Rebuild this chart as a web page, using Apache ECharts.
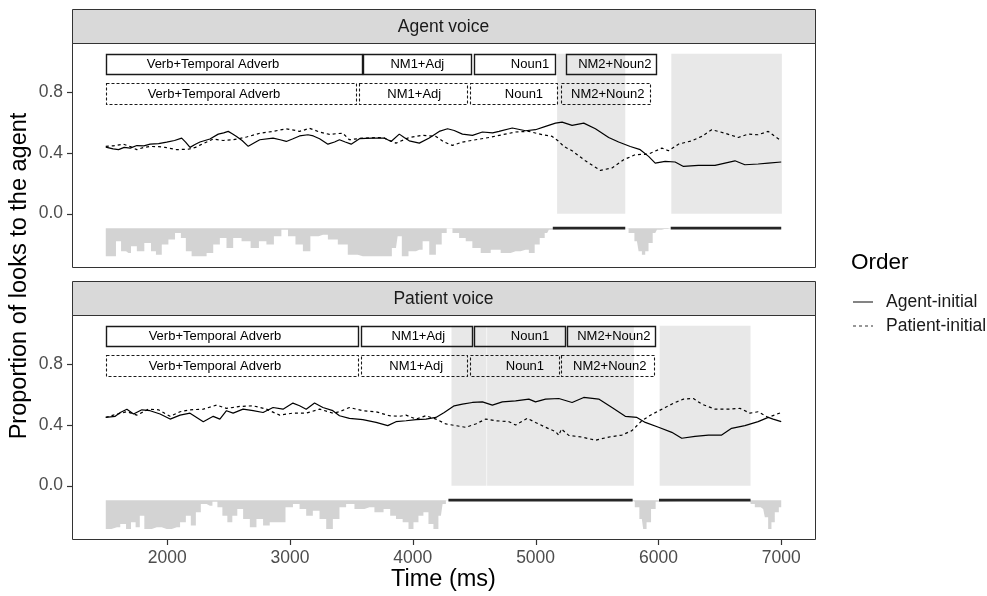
<!DOCTYPE html>
<html lang="en">
<head>
  <meta charset="UTF-8">
  <title>Proportion of looks to the agent</title>
  <style>
    html, body { margin: 0; padding: 0; background: #fff; }
    #chart { width: 987px; height: 596px; }
  </style>
</head>
<body>
  <div id="chart"></div>
  <script src="https://cdn.jsdelivr.net/npm/echarts/dist/echarts.min.js"></script>
  <script>
    // ---- data ----
    const panelTitles = ['Agent voice', 'Patient voice']
    const regionNames = ['Verb+Temporal Adverb', 'NM1+Adj', 'Noun1', 'NM2+Noun2']
    const xTicks = [2000, 3000, 4000, 5000, 6000, 7000]
    const yTicks = [0, 0.4, 0.8]

    // word regions: [start, end, label x]
    const agentVoiceSolidBoxes = [[1500, 3583, 2373], [3596, 4477, 4037], [4498, 5154, 4954], [5250, 5981, 5645]]
    const agentVoiceDashedBoxes = [[1500, 3537, 2381], [3563, 4441, 4012], [4469, 5181, 4905], [5203, 5927, 5587]]
    const patientVoiceSolidBoxes = [[1500, 3555, 2389], [3577, 4477, 4045], [4498, 5236, 4954], [5258, 5976, 5637]]
    const patientVoiceDashedBoxes = [[1500, 3550, 2389], [3577, 4441, 4028], [4463, 5187, 4913], [5206, 5962, 5604]]

    // significant windows (shaded)
    const agentVoiceShade = [[5175, 5730], [6105, 7005]]
    const patientVoiceShade = [[4315, 4600], [4605, 5800], [6010, 6750]]

    // significant clusters (black bar along the difference strip)
    const agentVoiceSig = [[5140, 5730], [6100, 7000]]
    const patientVoiceSig = [[4290, 5790], [6005, 6750]]

    // Agent voice: Agent-initial / Patient-initial
    const agentVoiceAI = [[1500,0.437],[1560,0.425],[1604,0.42],[1650,0.435],[1699,0.43],[1753,0.447],[1810,0.445],[1861,0.456],[1930,0.46],[1996,0.47],[2060,0.48],[2118,0.496],[2150,0.47],[2186,0.435],[2230,0.455],[2267,0.47],[2348,0.49],[2416,0.522],[2460,0.53],[2497,0.54],[2530,0.525],[2565,0.507],[2610,0.48],[2660,0.442],[2710,0.465],[2754,0.485],[2862,0.496],[2920,0.485],[2970,0.474],[3020,0.49],[3078,0.51],[3146,0.518],[3190,0.51],[3241,0.492],[3309,0.456],[3363,0.47],[3403,0.485],[3450,0.47],[3498,0.456],[3566,0.492],[3674,0.496],[3768,0.496],[3823,0.474],[3890,0.522],[3930,0.5],[3971,0.478],[4053,0.463],[4134,0.496],[4215,0.54],[4283,0.557],[4337,0.546],[4404,0.522],[4486,0.514],[4567,0.536],[4650,0.53],[4702,0.54],[4810,0.562],[4918,0.544],[4999,0.551],[5081,0.573],[5162,0.594],[5216,0.601],[5297,0.579],[5392,0.594],[5487,0.557],[5595,0.5],[5676,0.47],[5771,0.441],[5852,0.42],[5920,0.376],[5974,0.332],[6055,0.343],[6136,0.339],[6204,0.31],[6325,0.317],[6461,0.317],[6542,0.332],[6623,0.347],[6704,0.321],[6812,0.326],[6894,0.332],[7000,0.339]]
    const agentVoicePI = [[1500,0.441],[1560,0.445],[1645,0.456],[1700,0.44],[1753,0.42],[1810,0.435],[1861,0.441],[1930,0.44],[1983,0.435],[2078,0.42],[2172,0.423],[2230,0.435],[2267,0.45],[2375,0.49],[2456,0.48],[2538,0.485],[2646,0.503],[2754,0.528],[2862,0.54],[2970,0.557],[3020,0.55],[3078,0.54],[3159,0.56],[3241,0.536],[3322,0.52],[3380,0.525],[3430,0.528],[3484,0.485],[3593,0.496],[3755,0.5],[3863,0.463],[3971,0.5],[4080,0.514],[4188,0.507],[4256,0.47],[4323,0.448],[4404,0.47],[4512,0.485],[4621,0.5],[4729,0.518],[4837,0.536],[4945,0.54],[5054,0.518],[5135,0.507],[5189,0.474],[5230,0.441],[5297,0.413],[5405,0.347],[5527,0.284],[5622,0.3],[5717,0.354],[5811,0.387],[5920,0.391],[6028,0.43],[6082,0.413],[6163,0.456],[6271,0.478],[6353,0.507],[6434,0.551],[6542,0.528],[6650,0.5],[6731,0.522],[6812,0.518],[6894,0.54],[6948,0.507],[7000,0.478]]
    // lower edge of the grey difference strip
    const agentVoiceDiff = [[1500,-0.28],[1562,-0.28],[1604,-0.181],[1645,-0.247],[1685,-0.258],[1726,-0.214],[1780,-0.247],[1848,-0.192],[1888,-0.247],[1929,-0.269],[1983,-0.203],[2037,-0.17],[2091,-0.127],[2132,-0.159],[2172,-0.247],[2226,-0.28],[2294,-0.28],[2348,-0.258],[2402,-0.203],[2456,-0.159],[2510,-0.225],[2565,-0.159],[2646,-0.181],[2713,-0.225],[2781,-0.181],[2835,-0.203],[2903,-0.149],[2957,-0.105],[3011,-0.149],[3078,-0.203],[3132,-0.247],[3200,-0.149],[3268,-0.138],[3349,-0.17],[3430,-0.203],[3511,-0.269],[3593,-0.28],[3701,-0.28],[3796,-0.28],[3863,-0.225],[3890,-0.149],[3931,-0.28],[3999,-0.247],[4053,-0.236],[4107,-0.181],[4161,-0.269],[4215,-0.203],[4256,-0.127],[4296,-0.098],[4350,-0.127],[4404,-0.159],[4458,-0.181],[4512,-0.225],[4594,-0.258],[4675,-0.236],[4756,-0.258],[4837,-0.247],[4918,-0.236],[4972,-0.258],[5013,-0.203],[5054,-0.159],[5094,-0.127],[5121,-0.105],[5140,-0.095],[5720,-0.095],[5730,-0.098],[5784,-0.127],[5825,-0.181],[5852,-0.247],[5879,-0.269],[5906,-0.247],[5933,-0.192],[5974,-0.127],[6001,-0.105],[6050,-0.1],[6100,-0.095],[7000,-0.095]]

    // Patient voice: Agent-initial / Patient-initial
    const patientVoiceAI = [[1500,0.448],[1577,0.455],[1618,0.48],[1672,0.502],[1726,0.47],[1794,0.498],[1861,0.492],[1942,0.47],[2024,0.437],[2105,0.463],[2186,0.476],[2240,0.448],[2294,0.42],[2375,0.455],[2429,0.437],[2483,0.492],[2537,0.476],[2618,0.502],[2700,0.492],[2781,0.48],[2862,0.513],[2943,0.502],[3024,0.542],[3078,0.524],[3132,0.502],[3200,0.542],[3268,0.513],[3349,0.492],[3403,0.459],[3484,0.442],[3593,0.433],[3701,0.415],[3796,0.394],[3863,0.42],[3945,0.426],[4026,0.433],[4107,0.437],[4188,0.448],[4256,0.48],[4337,0.524],[4404,0.535],[4485,0.546],[4567,0.55],[4648,0.529],[4729,0.55],[4837,0.557],[4945,0.568],[4999,0.55],[5081,0.568],[5189,0.572],[5297,0.546],[5392,0.579],[5514,0.568],[5622,0.513],[5730,0.455],[5825,0.448],[5893,0.415],[6001,0.383],[6109,0.35],[6190,0.311],[6298,0.324],[6407,0.332],[6515,0.332],[6596,0.376],[6704,0.394],[6812,0.42],[6894,0.448],[6934,0.437],[7000,0.42]]
    const patientVoicePI = [[1500,0.448],[1591,0.47],[1672,0.485],[1753,0.463],[1848,0.502],[1929,0.498],[2024,0.455],[2105,0.485],[2186,0.498],[2294,0.502],[2402,0.529],[2483,0.507],[2591,0.52],[2700,0.524],[2808,0.502],[2916,0.463],[3024,0.476],[3132,0.476],[3241,0.502],[3349,0.476],[3403,0.485],[3484,0.513],[3593,0.492],[3701,0.485],[3809,0.459],[3890,0.455],[3945,0.463],[4026,0.437],[4107,0.459],[4188,0.437],[4269,0.405],[4350,0.394],[4431,0.383],[4512,0.405],[4594,0.437],[4675,0.426],[4783,0.42],[4837,0.398],[4932,0.442],[4999,0.415],[5081,0.383],[5162,0.355],[5189,0.33],[5210,0.372],[5270,0.33],[5378,0.319],[5487,0.298],[5595,0.319],[5703,0.332],[5784,0.361],[5865,0.426],[5947,0.468],[6055,0.513],[6136,0.546],[6204,0.568],[6285,0.572],[6353,0.535],[6461,0.502],[6569,0.502],[6664,0.507],[6745,0.476],[6812,0.485],[6894,0.448],[7000,0.48]]
    const patientVoiceDiff = [[1500,-0.284],[1591,-0.273],[1645,-0.251],[1685,-0.284],[1726,-0.24],[1760,-0.273],[1794,-0.197],[1834,-0.284],[1915,-0.273],[1996,-0.284],[2078,-0.273],[2132,-0.24],[2172,-0.197],[2213,-0.262],[2254,-0.175],[2294,-0.12],[2348,-0.131],[2389,-0.105],[2429,-0.142],[2470,-0.197],[2510,-0.24],[2551,-0.197],[2591,-0.153],[2646,-0.218],[2700,-0.273],[2754,-0.218],[2808,-0.262],[2862,-0.24],[2930,-0.24],[2997,-0.142],[3051,-0.12],[3105,-0.153],[3159,-0.197],[3213,-0.164],[3268,-0.218],[3322,-0.284],[3376,-0.218],[3430,-0.142],[3484,-0.12],[3566,-0.153],[3647,-0.142],[3728,-0.175],[3796,-0.153],[3836,-0.197],[3890,-0.218],[3945,-0.24],[3985,-0.284],[4026,-0.24],[4066,-0.197],[4107,-0.175],[4148,-0.251],[4188,-0.284],[4229,-0.197],[4256,-0.12],[4283,-0.098],[4300,-0.095],[5780,-0.095],[5790,-0.105],[5825,-0.142],[5865,-0.218],[5887,-0.284],[5920,-0.24],[5960,-0.153],[5995,-0.105],[6010,-0.095],[6745,-0.095],[6758,-0.12],[6812,-0.142],[6853,-0.153],[6880,-0.208],[6907,-0.284],[6934,-0.24],[6961,-0.175],[7000,-0.142]]

    // ---- layout ----
    const font = '"Liberation Sans", Arial, sans-serif'
    const gridLeft = 72, gridWidth = 743, gridHeight = 224
    const gridTops = [43, 315]
    const stripTops = [9, 281]
    const xMin = 1225, xMax = 7275, yMin = -0.35, yMax = 1.12
    const diffBase = -0.095
    const shadeTopY = 1.05
    const rows = { solid: [1.05, 0.92], dashed: [0.855, 0.718] }

    const panels = [
      { ai: agentVoiceAI, pi: agentVoicePI, diff: agentVoiceDiff, sig: agentVoiceSig, shade: agentVoiceShade, solid: agentVoiceSolidBoxes, dashed: agentVoiceDashedBoxes },
      { ai: patientVoiceAI, pi: patientVoicePI, diff: patientVoiceDiff, sig: patientVoiceSig, shade: patientVoiceShade, solid: patientVoiceSolidBoxes, dashed: patientVoiceDashedBoxes }
    ]

    function boxSeries(p, boxes, dashed) {
      const r = dashed ? rows.dashed : rows.solid
      return {
        type: 'custom', xAxisIndex: p, yAxisIndex: p, z: 5, silent: true,
        data: boxes, encode: { x: [0, 1] },
        renderItem: function (params, api) {
          const a = api.coord([api.value(0), r[0]])
          const b = api.coord([api.value(1), r[1]])
          const c = api.coord([api.value(2), (r[0] + r[1]) / 2])
          return {
            type: 'group', children: [
              { type: 'rect', shape: { x: Math.round(a[0]) + 0.5, y: Math.round(a[1]) + 0.5, width: Math.round(b[0] - a[0]), height: Math.round(b[1] - a[1]) },
                style: { fill: 'none', stroke: '#1a1a1a', lineWidth: dashed ? 1.1 : 1.4, lineDash: dashed ? [3, 2] : null } },
              { type: 'text', x: c[0], y: c[1] + 1,
                style: { text: regionNames[params.dataIndex], fill: '#000', font: '13px ' + font, align: 'center', verticalAlign: 'middle' } }
            ]
          }
        }
      }
    }

    const series = []
    panels.forEach(function (d, p) {
      series.push({
        type: 'custom', xAxisIndex: p, yAxisIndex: p, z: 1, silent: true,
        data: d.shade, encode: { x: [0, 1] },
        renderItem: function (params, api) {
          const a = api.coord([api.value(0), shadeTopY])
          const b = api.coord([api.value(1), 0])
          return { type: 'rect', shape: { x: a[0], y: a[1], width: b[0] - a[0], height: b[1] - a[1] }, style: { fill: '#e8e8e8' } }
        }
      })
      series.push({
        type: 'line', xAxisIndex: p, yAxisIndex: p, z: 2, silent: true,
        data: d.diff, step: 'middle', symbol: 'none',
        lineStyle: { width: 0, opacity: 0 },
        areaStyle: { color: '#d3d3d3', opacity: 1, origin: diffBase }
      })
      d.sig.forEach(function (s) {
        series.push({
          type: 'line', xAxisIndex: p, yAxisIndex: p, z: 4, silent: true, symbol: 'none',
          data: [[s[0], diffBase], [s[1], diffBase]],
          lineStyle: { color: '#262626', width: 2.6 }
        })
      })
      series.push({
        name: 'Agent-initial', type: 'line', xAxisIndex: p, yAxisIndex: p, z: 6, symbol: 'none',
        data: d.ai, lineStyle: { color: '#000', width: 1.2 }
      })
      series.push({
        name: 'Patient-initial', type: 'line', xAxisIndex: p, yAxisIndex: p, z: 6, symbol: 'none',
        data: d.pi, lineStyle: { color: '#000', width: 1.2, type: [3, 3] }
      })
      series.push(boxSeries(p, d.solid, false))
      series.push(boxSeries(p, d.dashed, true))
    })

    function xAxis(p) {
      return {
        type: 'value', gridIndex: p, min: xMin, max: xMax, position: 'bottom',
        axisLine: { show: false, onZero: false }, splitLine: { show: false }, axisTick: { show: false },
        axisLabel: { show: p === 1, customValues: xTicks, color: '#4d4d4d', fontSize: 17.5, fontFamily: font, margin: 10,
          formatter: function (v) { return String(v) } }
      }
    }
    function yAxis(p) {
      return {
        type: 'value', gridIndex: p, min: yMin, max: yMax, position: 'left',
        axisLine: { show: false, onZero: false }, splitLine: { show: false }, axisTick: { show: false },
        axisLabel: { customValues: yTicks, color: '#4d4d4d', fontSize: 17.5, fontFamily: font, margin: 9,
          formatter: function (v) { return v.toFixed(1) } }
      }
    }

    const graphic = []
    panelTitles.forEach(function (t, p) {
      graphic.push({ type: 'rect', z: 100, silent: true,
        shape: { x: gridLeft + 0.5, y: stripTops[p] + 0.5, width: gridWidth, height: gridTops[p] - stripTops[p] },
        style: { fill: '#d9d9d9', stroke: '#333', lineWidth: 1 } })
      graphic.push({ type: 'text', z: 101, silent: true, x: gridLeft + gridWidth / 2, y: (stripTops[p] + gridTops[p]) / 2 + 1,
        style: { text: t, fill: '#1a1a1a', font: '17.5px ' + font, align: 'center', verticalAlign: 'middle' } })
      graphic.push({ type: 'rect', z: 100, silent: true,
        shape: { x: gridLeft + 0.5, y: gridTops[p] + 0.5, width: gridWidth, height: gridHeight },
        style: { fill: 'none', stroke: '#333', lineWidth: 1 } })
    })
    graphic.push({ type: 'text', silent: true, x: gridLeft + gridWidth / 2, y: 580,
      style: { text: 'Time (ms)', fill: '#000', font: '23.5px ' + font, align: 'center', verticalAlign: 'middle' } })
    graphic.push({ type: 'text', silent: true, x: 20, y: 276, rotation: Math.PI / 2,
      style: { text: 'Proportion of looks to the agent', fill: '#000', font: '23.5px ' + font, align: 'center', verticalAlign: 'middle' } })
    // legend
    graphic.push({ type: 'text', silent: true, x: 851, y: 263,
      style: { text: 'Order', fill: '#000', font: '22.5px ' + font, align: 'left', verticalAlign: 'middle' } })
    const legendItems = [['Agent-initial', null, 302], ['Patient-initial', [3, 3], 326]]
    legendItems.forEach(function (it) {
      graphic.push({ type: 'line', silent: true, shape: { x1: 853, y1: it[2], x2: 873, y2: it[2] },
        style: { stroke: '#333', lineWidth: 1.2, lineDash: it[1] } })
      graphic.push({ type: 'text', silent: true, x: 886, y: it[2],
        style: { text: it[0], fill: '#1a1a1a', font: '17.5px ' + font, align: 'left', verticalAlign: 'middle' } })
    })

    const chart = echarts.init(document.getElementById('chart'))
    chart.setOption({
      animation: false,
      backgroundColor: '#fff',
      grid: gridTops.map(function (t) { return { left: gridLeft, top: t, width: gridWidth, height: gridHeight } }),
      xAxis: [xAxis(0), xAxis(1)],
      yAxis: [yAxis(0), yAxis(1)],
      series: series,
      graphic: graphic
    })

    // tick marks, placed with the axes' own scales
    const ticks = []
    panels.forEach(function (d, p) {
      yTicks.forEach(function (v) {
        const pt = chart.convertToPixel({ gridIndex: p }, [xMin, v])
        const y = Math.round(pt[1]) + 0.5
        ticks.push({ type: 'line', silent: true, z: 100, shape: { x1: pt[0] - 5, y1: y, x2: pt[0], y2: y },
          style: { stroke: '#333', lineWidth: 1.2 } })
      })
    })
    xTicks.forEach(function (v) {
      const pt = chart.convertToPixel({ gridIndex: 1 }, [v, yMin])
      const x = Math.round(pt[0]) + 0.5
      const y = Math.round(pt[1])
      ticks.push({ type: 'line', silent: true, z: 100, shape: { x1: x, y1: y, x2: x, y2: y + 6 },
        style: { stroke: '#333', lineWidth: 1.2 } })
    })
    chart.setOption({ graphic: graphic.concat(ticks) })
  </script>
</body>
</html>
